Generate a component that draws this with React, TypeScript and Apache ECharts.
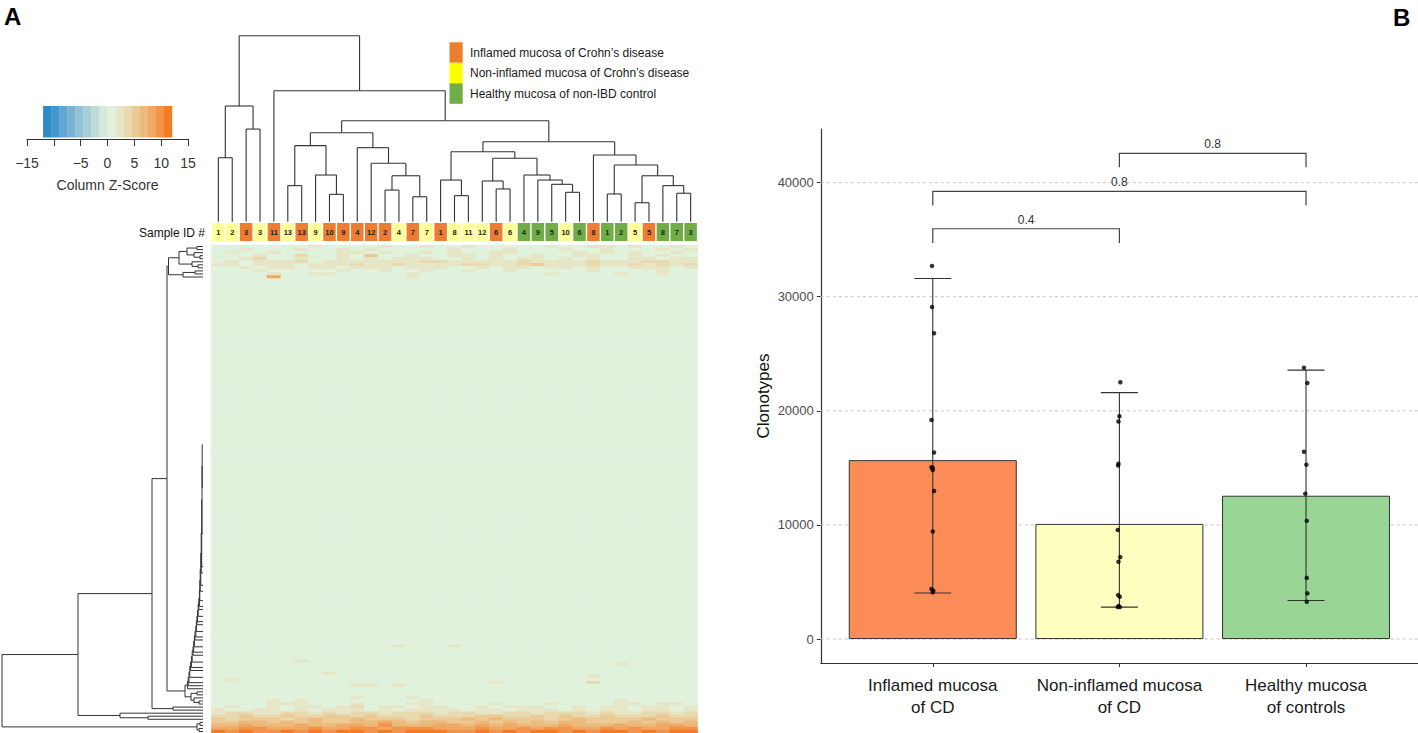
import React, { useEffect, useRef } from "react";
import * as echarts from "echarts";

const FONT = '"Liberation Sans", Arial, Helvetica, sans-serif';
const W = 1418;
const H = 733;

// ---------------- Panel A : samples in dendrogram leaf order ----------------
const SAMPLE_IDS = ["1", "2", "3", "3", "11", "13", "13", "9", "10", "9", "4", "12", "2", "4", "7", "7", "1", "8", "11", "12", "6", "6", "4", "9", "5", "10", "6", "8", "1", "2", "5", "5", "8", "7", "3"];
// 0 = inflamed CD, 1 = non-inflamed CD, 2 = healthy control
const SAMPLE_GROUPS = [1, 1, 0, 1, 0, 1, 0, 1, 0, 0, 0, 0, 0, 1, 0, 1, 0, 1, 1, 1, 0, 1, 2, 2, 2, 1, 2, 0, 2, 2, 1, 0, 2, 2, 2];
const GROUP_LABELS = ["Inflamed mucosa of Crohn’s disease", "Non-inflamed mucosa of Crohn’s disease", "Healthy mucosa of non-IBD control"];
const GROUP_CELL_COLORS = ["#ed7d31", "#ffff99", "#70ad47"];
const GROUP_LEGEND_COLORS = ["#ed7d31", "#ffff00", "#70ad47"];

// column dendrogram: [height, left, right]; numbers = leaf column
const COL_TREE_LEFT = [47.8, [40.9, [19.4, 5, 6], [25.1, 7, [14.7, 8, 9]]], [39.8, 10, [31.4, 11, [24.7, [17.0, 12, 13], [13.4, 14, 15]]]]];
const COL_TREE_RIGHT = [43.0, [37.6, [22.4, 16, [14.0, 17, 18]], [34.1, [21.9, 19, [17.6, 20, 21]], [25.1, 22, [22.4, 23, [20.1, 24, [15.8, 25, 26]]]]]], [35.9, 27, [30.5, [14.9, 28, 29], [24.7, [10.2, 30, 31], [19.4, 32, [15.3, 33, 34]]]]]];
const COL_TREE = [100, [62.2, [34.4, 0, 1], [49.8, 2, 3]], [70.4, 4, [54.3, COL_TREE_LEFT, COL_TREE_RIGHT]]];

// colour key
const KEY_BREAKS = [-12, -10.5, -9, -7.5, -6, -4.5, -3, -1.5, 0, 1.5, 3, 4.5, 6, 7.5, 9, 10.5, 12];
const KEY_COLORS = ["#2b8cc8", "#4598cc", "#5fa6d0", "#78b3d3", "#91c1d6", "#a8ced8", "#bedbda", "#d4e8db", "#e0f1dc", "#e6e6c6", "#e9d9ae", "#ebca96", "#edba7e", "#f0a865", "#f2944a", "#f57c22"];
const KEY_TICKS_HIDDEN = [-10];

// heatmap (z-score levels coded by letter)
const HEAT_N_ROWS = 160;
const HEAT_N_COLS = 35;
const HEAT_LEVELS: Record<string, number> = { ".": 0.5, a: 2, b: 3.5, c: 5, d: 6.5, e: 8, f: 9.5, g: 11 };
const HEAT_TOP_ROWS = [
  "..... ..a.. ..a.. a..a. ....a ..aa. a..a.",
  "..a.. .a..a .a... ..a.. .a... a..a. ..a.a",
  ".a..a ....a a.a.. a.a.. aa... .a.a. a..a.",
  "...a. .b..a .c..a ..aa. a..a. .aa.. a.a..",
  "..ab. .a..a .a.aa a..a. a.aa. a.a.. aa.aa",
  ".a.aa ab.aa aaaaa bbaaa aabaa aabaa abbaa",
  "aa.aa a.aaa baaba aaabb aabca aabaa babab",
  "..a.a a.aa. aaa.a aa..a .aa.a a.a.. aaa.a",
  "...a. ....a ..a.. a..a. .a... ..a.. ..a..",
  "....a ..aa. ....a ..... ....a ....a ..a..",
  "....e ..... ....a ..... ..... ..... .....",
];
const HEAT_BOTTOM_START = 150;
const HEAT_BOTTOM_ROWS = [
  "....a aa... a...a a.... a...a ....a a.aa.",
  ".a..a .aa.a b.aa. aa..a .aaa. .a.aa .aa.a",
  "a..aa .a.aa a.a.a aaa.a a.aaa .a.aa .aa.a",
  "abbaa bbaba bbabb babba abbab bbaba abbab",
  "bbcbb cbbcc bcbbb cbbbc cbbcb cbbcb bbcbb",
  "cbccc bcdcc dcccb cccdc dcccb cdccc cdccc",
  "ccddc dcdcc ddedc ddccd cdcdc ddccc dcdcd",
  "ddedd dedde edfdd deede deddd eddde ddeed",
  "eeffe eefee ffeff feeef eefef feefe feeff",
  "gfgff gfgfg gfgfg ggffg fgfgg fgfgg fgfgg",
];
const HEAT_SPOTS: [number, number, string][] = [
  [131, 13, "a"], [131, 17, "a"], [136, 6, "a"], [137, 29, "a"], [140, 8, "a"], [141, 27, "a"],
  [142, 1, "a"], [143, 27, "b"], [143, 20, "a"], [144, 10, "a"], [144, 11, "a"], [144, 13, "a"],
  [148, 10, "a"], [148, 14, "a"], [149, 4, "a"], [149, 6, "a"], [149, 15, "a"], [149, 29, "a"],
];

// row dendrogram (heights in px-like units from the heatmap edge)
const ROW_TOP_CLUSTER = [34.5, [24, [16, [6, 0, 1], [9, 2, [3, 3, 4]]], [11, 5, [5, 6, 7]]], [20, [8, 8, 9], 10]];
const ROW_FLAT = "11-66";
const ROW_STAIRS: [any, number][] = [
  ["67-80", 0.8], ["81-95", 1.0], ["96-106", 1.3], [107, 1.8], ["108-112", 2.2], [113, 2.8], ["114-117", 3.2],
  [118, 3.6], [119, 4.2], ["120-122", 4.8], [123, 5.5], [124, 6.0], ["125-127", 6.6], [128, 7.2], [129, 8.0],
  ["130-132", 8.6], [133, 9.3], [134, 10], ["135-137", 10.8], [138, 11.6], [139, 12.4], ["140-142", 13.2],
  [143, 14.0], [144, 14.8], [145, 15.6],
];
const ROW_MID_TAIL = [12, [6, 146, 147], [9, 148, [4, 149, 150]]];
const ROW_F = [30, 151, 152];
const ROW_D = [83, 153, [55, 154, 155]];
const ROW_Z = [6, [3, 156, 157], [4, 158, 159]];
const ROW_JOIN_HEIGHTS = { M: 18, E: 36, C: 51, A: 125, root: 201 };

// ---------------- Panel B ----------------
const B_CATEGORIES = ["Inflamed mucosa\nof CD", "Non-inflamed mucosa\nof CD", "Healthy mucosa\nof controls"];
const B_MEANS = [15680, 10090, 12560];
const B_ERR_LOW = [4030, 2800, 3380];
const B_ERR_HIGH = [31600, 21600, 23570];
const B_COLORS = ["#fc8d59", "#ffffbf", "#99d594"];
const B_POINTS_INFLAMED = [32700, 29100, 26800, 19200, 16350, 15060, 15000, 14820, 12970, 9420, 4390, 4240, 4100];
const B_JITTER_INFLAMED = [-0.004, -0.004, 0.007, -0.007, 0.007, -0.007, 0, 0, 0.007, 0, -0.007, 0.003, 0];
const B_POINTS_NONINFLAMED = [22500, 19530, 19060, 15360, 15210, 9560, 7180, 6770, 3850, 3700, 2900, 2800, 2800];
const B_JITTER_NONINFLAMED = [0.005, 0, -0.005, -0.005, -0.007, -0.009, 0.005, -0.005, -0.007, 0.002, -0.004, -0.009, 0.003];
const B_POINTS_HEALTHY = [23770, 22440, 16420, 15270, 12740, 10360, 5360, 4000, 3270];
const B_JITTER_HEALTHY = [-0.011, 0.007, -0.011, 0.002, -0.004, 0.004, 0.004, 0.007, 0.004];
const B_Y_TICKS = [0, 10000, 20000, 30000, 40000];
const B_Y_MIN = -2100;
const B_Y_MAX = 44700;
const B_BRACKETS = [[1, 2, 35960, 34700], [1, 3, 39240, 38000], [2, 3, 42570, 41340]];
const B_BRACKET_LABELS = ["0.4", "0.8", "0.8"];

// ---------------- helpers ----------------
type Pt = { pos: number; h: number };
function joinNodes(L: Pt, R: Pt, h: number, segs: number[][]): Pt {
  segs.push([L.pos, L.h, L.pos, h], [R.pos, R.h, R.pos, h], [L.pos, h, R.pos, h]);
  return { pos: (L.pos + R.pos) / 2, h };
}
function layoutTree(node: any, segs: number[][]): Pt {
  if (typeof node === "number") return { pos: node + 0.5, h: 0 };
  if (typeof node === "string") {
    const [a, b] = node.split("-").map(Number);
    let p = a + 0.5;
    for (let r = a + 1; r <= b; r++) p = (p + r + 0.5) / 2;
    return { pos: p, h: 0 };
  }
  if (Array.isArray(node)) {
    const [h, l, r] = node;
    return joinNodes(layoutTree(l, segs), layoutTree(r, segs), h, segs);
  }
  let cur = layoutTree(node.base, segs);
  for (const [item, h] of node.steps) cur = joinNodes(cur, layoutTree(item, segs), h, segs);
  return cur;
}

function buildHeat() {
  const m: string[][] = [];
  for (let r = 0; r < HEAT_N_ROWS; r++) m.push(new Array(HEAT_N_COLS).fill("."));
  HEAT_TOP_ROWS.forEach((s, r) => s.replace(/ /g, "").split("").forEach((ch, c) => { if (c < HEAT_N_COLS) m[r][c] = ch; }));
  HEAT_BOTTOM_ROWS.forEach((s, k) => s.replace(/ /g, "").split("").forEach((ch, c) => { if (c < HEAT_N_COLS) m[HEAT_BOTTOM_START + k][c] = ch; }));
  HEAT_SPOTS.forEach(([r, c, ch]) => { m[r][c] = ch; });
  const data: number[][] = [];
  m.forEach((row, r) => row.forEach((ch, c) => data.push([c, r, HEAT_LEVELS[ch] ?? 0.5])));
  return data;
}

function lineSeries(xi: number, yi: number, segs: number[][], color: string, width: number) {
  return {
    type: "custom",
    xAxisIndex: xi,
    yAxisIndex: yi,
    silent: true,
    data: segs,
    renderItem: (_p: any, api: any) => {
      const a = api.coord([api.value(0), api.value(1)]);
      const b = api.coord([api.value(2), api.value(3)]);
      return { type: "line", shape: { x1: a[0], y1: a[1], x2: b[0], y2: b[1] }, style: { stroke: color, lineWidth: width } };
    },
  };
}

function buildOption() {
  const colSegs: number[][] = [];
  layoutTree(COL_TREE, colSegs);

  const rowTree = [
    ROW_JOIN_HEIGHTS.root,
    [ROW_JOIN_HEIGHTS.A,
      [ROW_JOIN_HEIGHTS.C,
        [ROW_JOIN_HEIGHTS.E, ROW_TOP_CLUSTER, [ROW_JOIN_HEIGHTS.M, { base: ROW_FLAT, steps: ROW_STAIRS }, ROW_MID_TAIL]],
        ROW_F],
      ROW_D],
    ROW_Z,
  ];
  const rowSegsRaw: number[][] = [];
  layoutTree(rowTree, rowSegsRaw);
  const rowSegs = rowSegsRaw.map(([p1, h1, p2, h2]) => [h1, p1, h2, p2]);

  const heatData = buildHeat();

  const colLeft = 211.4;
  const colWidth = 486.2;
  const hidden = { show: false };

  const grids = [
    { left: colLeft, top: 35.7, width: colWidth, height: 186 },
    { left: colLeft, top: 223, width: colWidth, height: 18 },
    { left: colLeft, top: 245, width: colWidth, height: 488 },
    { left: 2, top: 245, width: 201, height: 488 },
    { left: 27, top: 106, width: 161, height: 33 },
    { left: 820.8, top: 129, width: 597.2, height: 534 },
  ].map((g) => ({ ...g, containLabel: false, outerBoundsMode: "none" }));

  const xAxes: any[] = [
    { gridIndex: 0, type: "value", min: 0, max: HEAT_N_COLS, ...hidden },
    { gridIndex: 1, type: "value", min: 0, max: HEAT_N_COLS, ...hidden },
    { gridIndex: 2, type: "category", data: SAMPLE_IDS.map((_, i) => String(i)), ...hidden },
    { gridIndex: 3, type: "value", min: 0, max: ROW_JOIN_HEIGHTS.root, inverse: true, ...hidden },
    {
      gridIndex: 4, type: "value", min: -15, max: 15, interval: 5, position: "bottom",
      axisLine: { show: true, onZero: false, lineStyle: { color: "#333", width: 1 } },
      axisTick: { show: true, length: 7, lineStyle: { color: "#333", width: 1 } },
      axisLabel: {
        fontSize: 14, color: "#333", margin: 17, fontFamily: FONT,
        formatter: (v: number) => (KEY_TICKS_HIDDEN.includes(v) ? "" : v < 0 ? "−" + Math.abs(v) : String(v)),
      },
      splitLine: { show: false },
      name: "Column Z-Score", nameLocation: "middle", nameGap: 39,
      nameTextStyle: { fontSize: 14, color: "#333", fontFamily: FONT },
    },
    {
      gridIndex: 5, type: "value", min: 0.4, max: 3.6,
      axisLine: { show: true, onZero: false, lineStyle: { color: "#333", width: 1.2 } },
      axisTick: { show: true, customValues: [1, 2, 3], length: 4, lineStyle: { color: "#333" } },
      axisLabel: {
        customValues: [1, 2, 3], fontSize: 17, color: "#1a1a1a", lineHeight: 22, margin: 11, fontFamily: FONT,
        formatter: (v: number) => B_CATEGORIES[Math.round(v) - 1] ?? "",
      },
      splitLine: { show: false },
    },
  ];
  const yAxes: any[] = [
    { gridIndex: 0, type: "value", min: 0, max: 100, ...hidden },
    { gridIndex: 1, type: "value", min: 0, max: 1, ...hidden },
    { gridIndex: 2, type: "category", inverse: true, data: Array.from({ length: HEAT_N_ROWS }, (_, i) => String(i)), ...hidden },
    { gridIndex: 3, type: "value", min: 0, max: HEAT_N_ROWS, inverse: true, ...hidden },
    { gridIndex: 4, type: "value", min: 0, max: 1, ...hidden },
    {
      gridIndex: 5, type: "value", min: B_Y_MIN, max: B_Y_MAX,
      axisLine: { show: true, onZero: false, lineStyle: { color: "#333", width: 1.2 } },
      axisTick: { show: true, customValues: B_Y_TICKS, length: 4, lineStyle: { color: "#333" } },
      axisLabel: { customValues: B_Y_TICKS, fontSize: 13, color: "#4d4d4d", margin: 7, fontFamily: FONT, formatter: (v: number) => String(v) },
      splitLine: { show: false },
      name: "Clonotypes", nameLocation: "middle", nameGap: 49,
      nameTextStyle: { fontSize: 17, color: "#111", fontFamily: FONT },
    },
  ];

  const points: number[][] = [];
  [B_POINTS_INFLAMED, B_POINTS_NONINFLAMED, B_POINTS_HEALTHY].forEach((arr, g) => {
    const jit = [B_JITTER_INFLAMED, B_JITTER_NONINFLAMED, B_JITTER_HEALTHY][g];
    arr.forEach((v, j) => points.push([g + 1 + jit[j], v]));
  });

  const series: any[] = [
    {
      type: "heatmap", xAxisIndex: 2, yAxisIndex: 2, data: heatData, progressive: 0, silent: true,
      itemStyle: { borderWidth: 0 }, emphasis: { disabled: true },
    },
    lineSeries(0, 0, colSegs, "#333", 1.1),
    lineSeries(3, 3, rowSegs, "#333", 1),
    {
      type: "custom", xAxisIndex: 1, yAxisIndex: 1, silent: true,
      data: SAMPLE_GROUPS.map((g, i) => [i, g]),
      renderItem: (params: any, api: any) => {
        const i = api.value(0);
        const g = api.value(1);
        const p0 = api.coord([i + 0.05, 1]);
        const p1 = api.coord([i + 0.95, 0]);
        return {
          type: "group",
          children: [
            { type: "rect", shape: { x: p0[0], y: p0[1], width: p1[0] - p0[0], height: p1[1] - p0[1] }, style: { fill: GROUP_CELL_COLORS[g] } },
            {
              type: "text",
              style: {
                text: SAMPLE_IDS[params.dataIndex], x: (p0[0] + p1[0]) / 2, y: (p0[1] + p1[1]) / 2 + 0.5,
                align: "center", verticalAlign: "middle", fontSize: 7.5, fontWeight: "bold", fontFamily: FONT, fill: "#222",
              },
            },
          ],
        };
      },
    },
    {
      type: "custom", xAxisIndex: 4, yAxisIndex: 4, silent: true,
      data: KEY_COLORS.map((_, i) => [KEY_BREAKS[i], KEY_BREAKS[i + 1]]),
      renderItem: (params: any, api: any) => {
        const p0 = api.coord([api.value(0), 1]);
        const p1 = api.coord([api.value(1), 0]);
        return { type: "rect", shape: { x: p0[0], y: p0[1], width: p1[0] - p0[0] + 0.3, height: p1[1] - p0[1] - 1.5 }, style: { fill: KEY_COLORS[params.dataIndex] } };
      },
    },
    {
      type: "custom", xAxisIndex: 5, yAxisIndex: 5, silent: true, z: 1,
      data: B_Y_TICKS.map((v) => [1, v]),
      renderItem: (params: any, api: any) => {
        const cs = params.coordSys;
        const y = api.coord([1, api.value(1)])[1];
        return { type: "line", shape: { x1: cs.x, y1: y, x2: cs.x + cs.width, y2: y }, style: { stroke: "#c4c4c4", lineWidth: 1, lineDash: [3, 3] } };
      },
    },
    {
      type: "bar", xAxisIndex: 5, yAxisIndex: 5, z: 2, barWidth: 168, silent: true,
      data: B_MEANS.map((m, i) => ({ value: [i + 1, m], itemStyle: { color: B_COLORS[i] } })),
      itemStyle: { borderColor: "#333", borderWidth: 1 },
    },
    {
      type: "custom", xAxisIndex: 5, yAxisIndex: 5, z: 3, silent: true,
      data: B_MEANS.map((_, i) => [i + 1, B_ERR_LOW[i], B_ERR_HIGH[i]]),
      renderItem: (_p: any, api: any) => {
        const lo = api.coord([api.value(0), api.value(1)]);
        const hi = api.coord([api.value(0), api.value(2)]);
        const st = { stroke: "#333", lineWidth: 1.1 };
        const half = 18.5;
        return {
          type: "group",
          children: [
            { type: "line", shape: { x1: lo[0], y1: lo[1], x2: hi[0], y2: hi[1] }, style: st },
            { type: "line", shape: { x1: hi[0] - half, y1: hi[1], x2: hi[0] + half, y2: hi[1] }, style: st },
            { type: "line", shape: { x1: lo[0] - half, y1: lo[1], x2: lo[0] + half, y2: lo[1] }, style: st },
          ],
        };
      },
    },
    {
      type: "scatter", xAxisIndex: 5, yAxisIndex: 5, z: 4, silent: true,
      symbolSize: 4.5, itemStyle: { color: "#000" }, data: points,
    },
    {
      type: "custom", xAxisIndex: 5, yAxisIndex: 5, z: 4, silent: true,
      data: B_BRACKETS,
      renderItem: (params: any, api: any) => {
        const a = api.coord([api.value(0), api.value(3)]);
        const b = api.coord([api.value(0), api.value(2)]);
        const c = api.coord([api.value(1), api.value(2)]);
        const d = api.coord([api.value(1), api.value(3)]);
        return {
          type: "group",
          children: [
            { type: "polyline", shape: { points: [a, b, c, d] }, style: { stroke: "#444", lineWidth: 1.2, fill: "none" } },
            {
              type: "text",
              style: {
                text: B_BRACKET_LABELS[params.dataIndex], x: (b[0] + c[0]) / 2, y: b[1] - 9,
                align: "center", verticalAlign: "middle", fontSize: 12, fontFamily: FONT, fill: "#333",
              },
            },
          ],
        };
      },
    },
  ];

  const legendGraphics: any[] = [];
  GROUP_LABELS.forEach((lab, i) => {
    legendGraphics.push({ type: "rect", shape: { x: 449.5, y: 42.3 + i * 20.5, width: 13.2, height: 20.5 }, style: { fill: GROUP_LEGEND_COLORS[i] } });
    legendGraphics.push({
      type: "text", x: 470, y: 52.6 + i * 20.5,
      style: { text: lab, fontSize: 12, fontFamily: FONT, fill: "#1a1a1a", verticalAlign: "middle", align: "left" },
    });
  });

  return {
    animation: false,
    backgroundColor: "#ffffff",
    textStyle: { fontFamily: FONT },
    grid: grids,
    xAxis: xAxes,
    yAxis: yAxes,
    visualMap: [
      {
        type: "piecewise", show: false, seriesIndex: 0, dimension: 2,
        pieces: KEY_COLORS.map((c, i) => ({ gte: KEY_BREAKS[i], lt: KEY_BREAKS[i + 1], color: c })),
      },
    ],
    graphic: [
      { type: "text", x: 4, y: 16, style: { text: "A", fontSize: 24, fontWeight: "bold", fontFamily: FONT, fill: "#000", verticalAlign: "middle" } },
      { type: "text", x: 1393, y: 17, style: { text: "B", fontSize: 24, fontWeight: "bold", fontFamily: FONT, fill: "#000", verticalAlign: "middle" } },
      { type: "text", x: 205, y: 232.5, style: { text: "Sample ID #", fontSize: 12, fontFamily: FONT, fill: "#111", align: "right", verticalAlign: "middle" } },
      ...legendGraphics,
    ],
    series,
  };
}

export default function App() {
  const ref = useRef<HTMLDivElement>(null);
  useEffect(() => {
    if (!ref.current) return;
    const chart = echarts.init(ref.current, null, { renderer: "svg", width: W, height: H });
    chart.setOption(buildOption() as any);
    return () => chart.dispose();
  }, []);
  return <div ref={ref} style={{ position: "fixed", left: 0, top: 0, width: W, height: H }} />;
}
